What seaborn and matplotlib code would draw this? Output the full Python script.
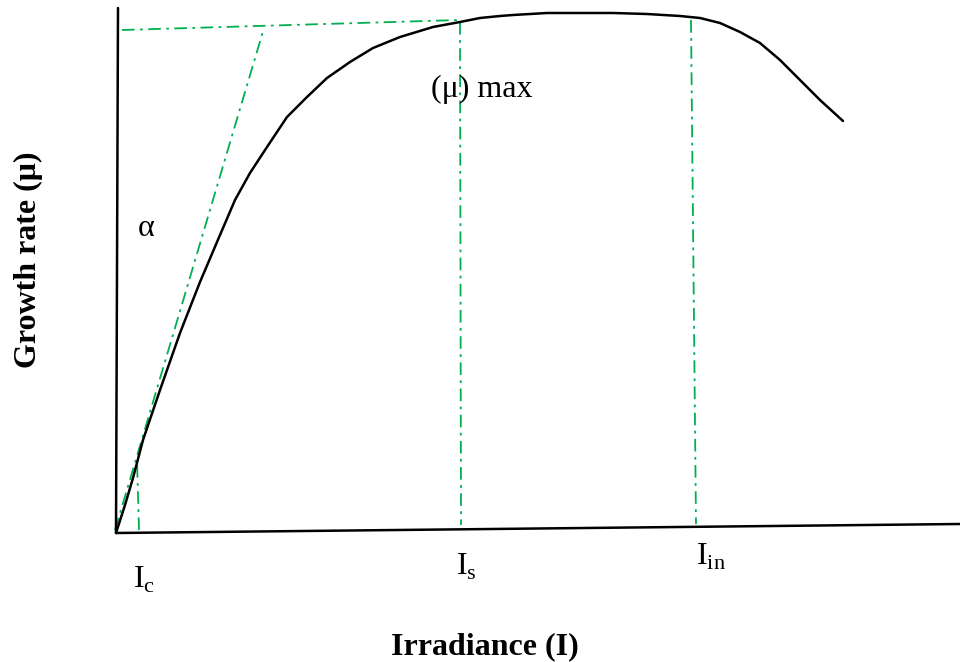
import numpy as np
import pandas as pd
import seaborn as sns
import matplotlib.pyplot as plt

# growth curve (origin = axes corner, y up)
irradiance = [0, 9, 17, 27, 44, 64, 84, 104, 119, 134, 151, 171, 191, 211, 234, 257, 284,
              317, 344, 364, 384, 397, 431, 464, 497, 531, 564, 584, 604, 624, 644, 664, 684, 704, 727]
growth = [0, 28, 55, 93, 143, 200, 251, 298, 333, 360, 386, 416, 436, 455, 471, 485, 496,
          506, 511, 515, 517, 518, 520, 520, 520, 519, 517, 515, 510, 501, 490, 473, 453, 433, 412]

# axis lines (hand drawn, slightly tilted)
yaxis_x = [0, 2]
yaxis_y = [0, 525]
xaxis_x = [0, 844]
xaxis_y = [0, 9]

# green guide lines
mu_max_x = [6, 344]
mu_max_y = [503, 513]
alpha_x = [-1, 148]
alpha_y = [3, 505]
ic_x = [23, 21]
ic_y = [3, 73]
is_x = [344, 345]
is_y = [511, 8]
iin_x = [575, 580]
iin_y = [513, 9]

sns.set_style("white")
plt.rcParams['font.family'] = ['Liberation Serif', 'DejaVu Serif']

fig = plt.figure(figsize=(9.6, 6.62), dpi=100)
ax = fig.add_axes([0, 0, 1, 1])
ax.set_xlim(-116, 844)
ax.set_ylim(-129, 533)
ax.set_axis_off()

green = "#00b050"
dd = (0, (7, 3, 1.5, 3))
for gx, gy in [(mu_max_x, mu_max_y), (alpha_x, alpha_y), (ic_x, ic_y), (is_x, is_y), (iin_x, iin_y)]:
    ax.plot(gx, gy, color=green, lw=1.3, linestyle=dd)

ax.plot(yaxis_x, yaxis_y, color="black", lw=1.8)
ax.plot(xaxis_x, xaxis_y, color="black", lw=1.8)

df = pd.DataFrame({"I": irradiance, "mu": growth})
sns.lineplot(data=df, x="I", y="mu", sort=False, color="black", lw=1.8, ax=ax)

fs = 23
ax.text(366, 444, "(\u03bc) max", fontsize=fs, ha="center", va="center", color="black")
ax.text(30, 305, "\u03b1", fontsize=fs, ha="center", va="center", color="black")
ax.text(28, -47, "I$_{\\mathregular{c}}$", fontsize=fs, ha="center", va="center", color="black")
ax.text(350, -34, "I$_{\\mathregular{s}}$", fontsize=fs, ha="center", va="center", color="black")
ax.text(595, -24, "I$_{\\mathregular{in}}$", fontsize=fs, ha="center", va="center", color="black")
ax.text(-88, 273, "Growth rate (\u03bc)", fontsize=fs, fontweight="bold", rotation=90,
        ha="center", va="center", color="black")
ax.text(369, -114, "Irradiance (I)", fontsize=fs, fontweight="bold", ha="center", va="center",
        color="black")

fig.savefig("out.png", dpi=100)
